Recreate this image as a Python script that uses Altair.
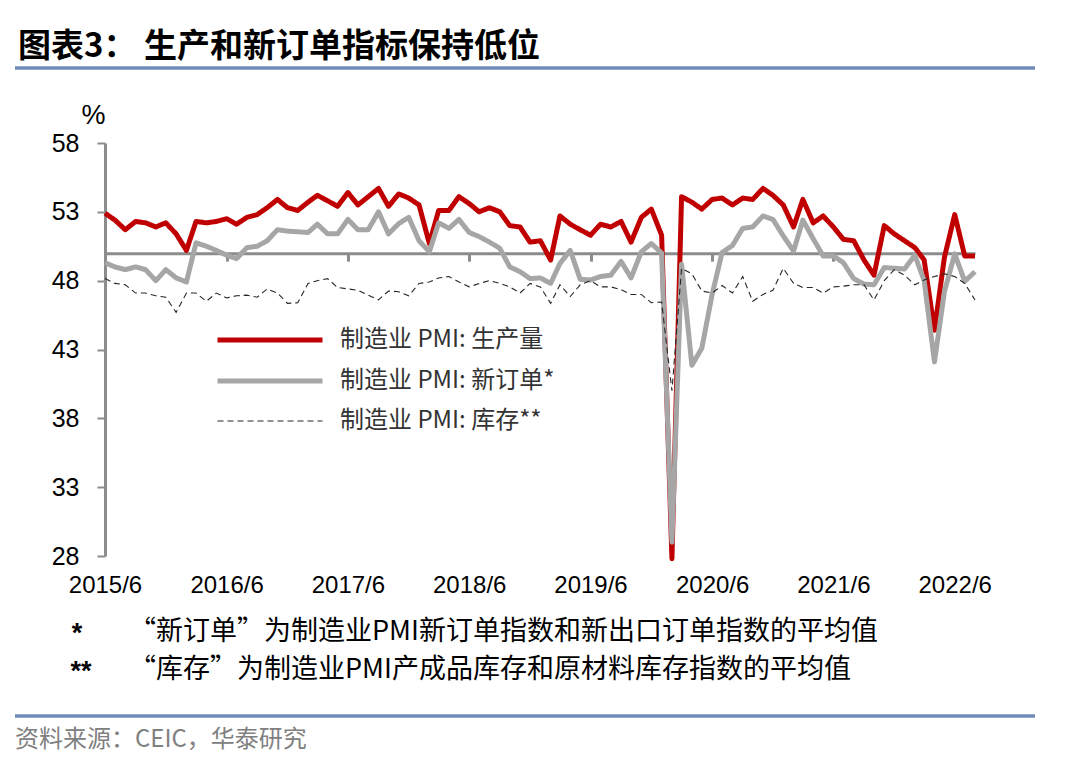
import altair as alt
import pandas as pd

# ---------------- data ----------------
months = pd.date_range("2015-06-01", periods=87, freq="MS").strftime("%Y-%m-%d").tolist()

production = [
    52.9, 52.4, 51.7, 52.3, 52.2, 51.9, 52.2,
    51.4, 50.2, 52.3, 52.2, 52.3, 52.5, 52.1, 52.6, 52.8, 53.3, 53.9, 53.3,
    53.1, 53.7, 54.2, 53.8, 53.4, 54.4, 53.5, 54.1, 54.7, 53.4, 54.3, 54.0,
    53.5, 50.7, 53.1, 53.1, 54.1, 53.6, 53.0, 53.3, 53.0, 52.0, 51.9, 50.8,
    50.9, 49.5, 52.7, 52.1, 51.7, 51.3, 52.1, 51.9, 52.3, 50.8, 52.6, 53.2,
    51.3, 27.8, 54.1, 53.7, 53.2, 53.9, 54.0, 53.5, 54.0, 53.9, 54.7, 54.2,
    53.5, 51.9, 53.9, 52.2, 52.7, 51.9, 51.0, 50.9, 49.5, 48.4, 52.0, 51.4,
    50.9, 50.4, 49.5, 44.4, 49.7, 52.8, 49.8, 49.8,
]

new_orders = [
    49.3, 49.0, 48.8, 49.0, 48.8, 48.0, 48.8,
    48.2, 47.9, 50.75, 50.5, 50.2, 49.85, 49.6, 50.4, 50.5, 50.9, 51.7, 51.6,
    51.55, 51.5, 52.1, 51.4, 51.4, 52.45, 51.7, 51.7, 53.0, 51.4, 52.15, 52.6,
    50.9, 50.1, 52.2, 51.8, 52.45, 51.5, 51.2, 50.8, 50.35, 49.0, 48.65, 48.15,
    48.2, 47.8, 49.25, 50.2, 48.1, 48.05, 48.3, 48.4, 49.4, 48.2, 50.1, 50.7,
    50.0, 29.0, 49.2, 41.85, 43.1, 47.0, 50.05, 50.55, 51.8, 51.9, 52.7, 52.45,
    51.25, 50.15, 52.4, 51.05, 49.8, 49.8, 49.3, 48.15, 47.75, 47.7, 48.95, 48.9,
    48.85, 49.85, 48.0, 42.1, 47.2, 49.95, 47.95, 48.65,
]

inventory = [
    48.15, 47.8, 47.7, 47.1, 47.1, 46.9, 46.8,
    45.7, 47.1, 47.1, 46.5, 47.1, 46.75, 46.9, 46.95, 46.8, 47.4, 47.1, 46.35,
    46.4, 47.8, 48.0, 48.15, 47.5, 47.4, 47.3, 46.95, 46.6, 47.25, 47.2, 46.9,
    47.8, 47.9, 48.2, 48.3, 47.9, 47.55, 47.8, 48.0, 47.8, 47.55, 47.1, 47.8,
    47.55, 46.35, 47.7, 46.85, 47.7, 48.0, 47.55, 47.55, 47.35, 47.0, 47.0, 46.4,
    46.45, 40.0, 48.9, 48.5, 47.25, 47.1, 47.65, 47.1, 48.3, 46.5, 47.0, 47.3,
    48.9, 47.8, 47.5, 47.5, 47.1, 47.55, 47.6, 47.7, 47.7, 46.6, 48.0, 48.8,
    48.4, 47.7, 48.05, 48.3, 48.5, 48.3, 47.8, 46.6,
]

series_names = ["制造业 PMI: 生产量", "制造业 PMI: 新订单*", "制造业 PMI: 库存**"]
series_colors = ["#C00000", "#A6A6A6", "#262626"]
series_widths = [5, 5, 1.1]
series_dashes = [[1, 0], [1, 0], [6, 4]]

y_ticks = [28, 33, 38, 43, 48, 53, 58]
tick_years = [2015, 2016, 2017, 2018, 2019, 2020, 2021, 2022]

title_text = "图表3：  生产和新订单指标保持低位"
note1_mark = "*"
note1_text = "“新订单”为制造业PMI新订单指数和新出口订单指数的平均值"
note2_mark = "**"
note2_text = "“库存”为制造业PMI产成品库存和原材料库存指数的平均值"
source_text = "资料来源：CEIC，华泰研究"

# ---------------- table ----------------
rows = []
for name, vals in zip(series_names, [production, new_orders, inventory]):
    for d, v in zip(months, vals):
        rows.append({"date": d, "value": v, "series": name})
df = pd.DataFrame(rows)

# ---------------- geometry ----------------
W, H = 870, 413
y_min, y_max = 28, 58
axis_y_px = H * (y_max - 50) / (y_max - y_min)  # pixel position of the 50 line

NUM_FONT = "Liberation Sans"
CJK_FONT = "Noto Sans CJK SC"

x_scale = alt.Scale(
    type="utc",
    domain=[alt.DateTime(year=2015, month=6, date=1, utc=True),
            alt.DateTime(year=2022, month=8, date=1, utc=True)],
)
y_scale = alt.Scale(domain=[y_min, y_max], nice=False, zero=False)

x_axis = alt.Axis(
    values=[alt.DateTime(year=y, month=6, date=1, utc=True) for y in tick_years],
    format="%Y/%-m",
    offset=-(H - axis_y_px),
    domainColor="#8C8C8C", domainWidth=3,
    tickColor="#8C8C8C", tickWidth=3, tickSize=8,
    labelPadding=312, labelFontSize=24, labelFont=NUM_FONT, labelColor="black",
    labelFlush=False, labelOverlap=False, grid=False, title=None,
)
y_axis = alt.Axis(
    values=y_ticks,
    domainColor="#8C8C8C", domainWidth=3,
    tickColor="#8C8C8C", tickWidth=2, tickSize=8,
    labelPadding=18, labelFontSize=25, labelFont=NUM_FONT, labelColor="black",
    grid=False, title="%", titleAngle=0, titleX=-12, titleY=-28,
    titleAlign="center", titleBaseline="middle", titleFontSize=27,
    titleFont=NUM_FONT, titleFontWeight="normal", titleColor="black",
)

# long horizontal line symbol (custom path on the -1..1 grid, scaled by sqrt(size)/2)
legend = alt.Legend(
    orient="none", legendX=152, legendY=184, title=None,
    symbolType="M-5,0H5", symbolSize=441, labelFont=CJK_FONT,
    labelFontSize=24, labelColor="#333333", labelOffset=57, rowPadding=16,
    labelLimit=500, padding=0,
)

base = alt.Chart(df).encode(
    x=alt.X("date:T", scale=x_scale, axis=x_axis),
    y=alt.Y("value:Q", scale=y_scale, axis=y_axis),
    color=alt.Color("series:N", scale=alt.Scale(domain=series_names, range=series_colors),
                    legend=legend, sort=series_names),
    strokeDash=alt.StrokeDash("series:N", scale=alt.Scale(domain=series_names, range=series_dashes),
                              legend=legend, sort=series_names),
    strokeWidth=alt.StrokeWidth("series:N",
                                scale=alt.Scale(type="ordinal", domain=series_names, range=series_widths),
                                legend=legend, sort=series_names),
)

red_line = base.transform_filter(alt.datum.series == series_names[0]).mark_line(strokeJoin="round")
gray_line = base.transform_filter(alt.datum.series == series_names[1]).mark_line(strokeJoin="round")
dash_line = base.transform_filter(alt.datum.series == series_names[2]).mark_line()

one = alt.Data(values=[{"k": 1}])


def text_layer(text, x, y, size, color="black", weight="normal", font=CJK_FONT, align="left"):
    return alt.Chart(one).mark_text(
        text=text, x=x, y=y, fontSize=size, color=color, fontWeight=weight,
        font=font, align=align, baseline="middle",
    )


def hrule(y):
    return alt.Chart(one).mark_rule(color="#6F8DB8", strokeWidth=3.5).encode(
        x=alt.value(-90), x2=alt.value(930), y=alt.value(y)
    )


title = text_layer(title_text, -87, -96, 33, weight="bold")
note1a = text_layer(note1_mark, -28, 491, 27, font=NUM_FONT, align="center", weight="bold")
note1b = text_layer(note1_text, 24, 489, 27)
note2a = text_layer(note2_mark, -24, 529, 27, font=NUM_FONT, align="center", weight="bold")
note2b = text_layer(note2_text, 24, 527, 27)
source = text_layer(source_text, -90, 597, 24, color="#808080")

chart = alt.layer(
    red_line, gray_line, dash_line,
    hrule(-75), hrule(573),
    title, note1a, note1b, note2a, note2b, source,
).properties(
    width=W, height=H,
    background="white",
    autosize=alt.AutoSizeParams(type="none"),
    padding={"left": 97, "top": 135, "right": 60, "bottom": 200},
).configure_view(stroke=None)

chart.save("out.html", embed_options={"renderer": "svg", "actions": False})
